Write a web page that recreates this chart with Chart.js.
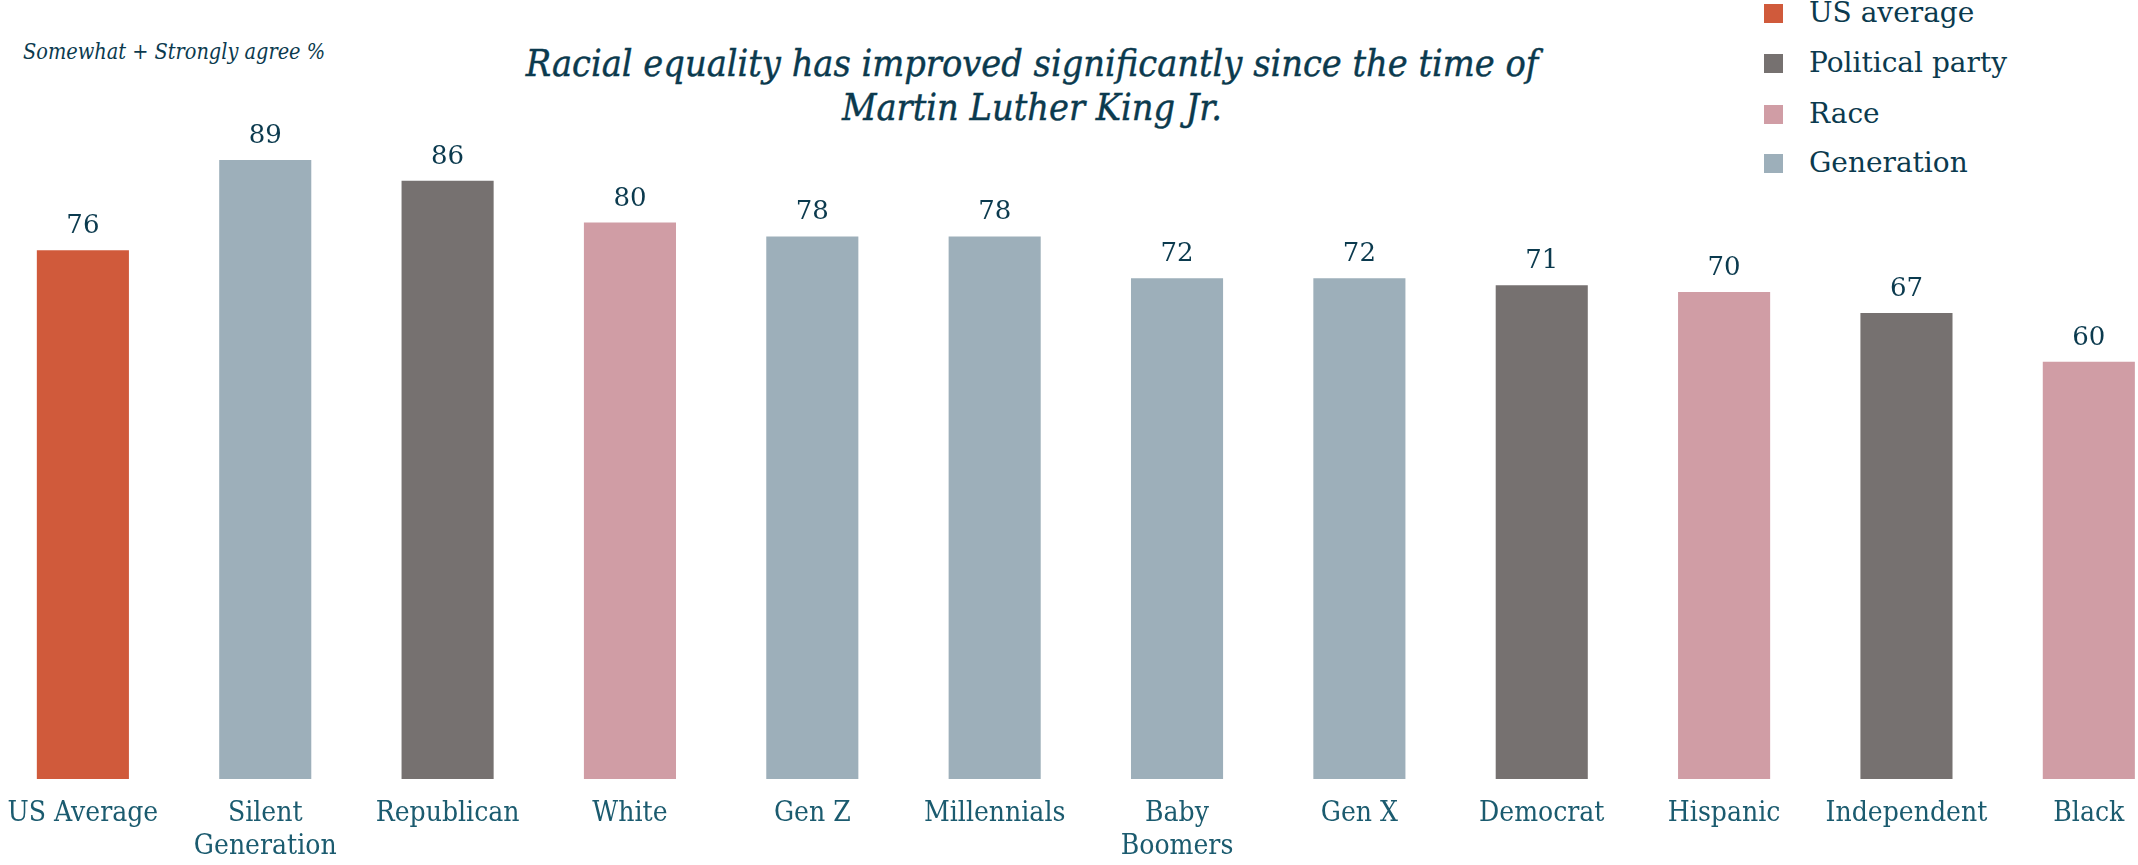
<!DOCTYPE html>
<html>
<head>
<meta charset="utf-8">
<script src="https://cdn.jsdelivr.net/npm/chart.js@4.4.1/dist/chart.umd.min.js"></script>
<style>
    body {
        margin: 0;
        width: 2138px;
        height: 865px;
        overflow: hidden;
        background: #ffffff;
        position: relative;
        font-family: 'DejaVu Serif', serif;
        color: #0b3a4e;
    }
    #chartBox {
        position: absolute;
        left: -11px;
        top: 0;
        width: 2191px;
        height: 882px;
    }
    .title {
        position: absolute;
        left: 432px;
        width: 1200px;
        text-align: center;
        font-family: 'DejaVu Serif Condensed', 'DejaVu Serif', serif;
        font-style: italic;
        font-size: 37.5px;
        line-height: 44px;
        top: 41px;
        white-space: nowrap;
        -webkit-text-stroke: 0.4px #0b3a4e;
    }
    .subtitle {
        position: absolute;
        left: 23px;
        top: 40px;
        font-family: 'DejaVu Serif Condensed', 'DejaVu Serif', serif;
        font-style: italic;
        font-size: 21.5px;
        line-height: 24px;
        white-space: nowrap;
    }
    .legend-item {
        position: absolute;
        left: 1764px;
        height: 30px;
    }
    .legend-item .swatch {
        position: absolute;
        left: 0;
        width: 19px;
        height: 19px;
    }
    .legend-item .label {
        position: absolute;
        left: 45px;
        font-size: 28px;
        line-height: 28px;
        white-space: nowrap;
    }
</style>
</head>
<body>
<div class="subtitle">Somewhat + Strongly agree %</div>
<div class="title">Racial equality has improved significantly since the time of<br>Martin Luther King Jr.</div>
<div id="legend"></div>
<div id="chartBox"><canvas id="barChart"></canvas></div>

<script>
// Categories, in the order shown
const categories = [
    'US Average', ['Silent', 'Generation'], 'Republican', 'White', 'Gen Z', 'Millennials',
    ['Baby', 'Boomers'], 'Gen X', 'Democrat', 'Hispanic', 'Independent', 'Black'
];

// Somewhat + Strongly agree %
const agreeValues = [76, 89, 86, 80, 78, 78, 72, 72, 71, 70, 67, 60];

// Which group each bar belongs to
const barGroups = [
    'US average', 'Generation', 'Political party', 'Race', 'Generation', 'Generation',
    'Generation', 'Generation', 'Political party', 'Race', 'Political party', 'Race'
];

// Legend groups and their colours
const groupNames = ['US average', 'Political party', 'Race', 'Generation'];
const groupColors = ['#d05a3b', '#767170', '#d09da5', '#9dafba'];

const textColor = '#0b3a4e';
const axisTextColor = '#1b5b6f';

// Build the legend (top right)
const legendBaselines = [23, 73, 124, 173];
const legendEl = document.getElementById('legend');
groupNames.forEach(function (name, i) {
    const item = document.createElement('div');
    item.className = 'legend-item';
    item.style.top = (legendBaselines[i] - 24) + 'px';
    item.innerHTML = '<div class="swatch" style="top:5px;background:' + groupColors[i] + '"></div>' +
        '<div class="label" style="top:0">' + name + '</div>';
    legendEl.appendChild(item);
});

// Value labels above bars
const valueLabels = {
    id: 'valueLabels',
    afterDatasetsDraw(chart) {
        const ctx = chart.ctx;
        const meta = chart.getDatasetMeta(0);
        ctx.save();
        ctx.font = '26px "DejaVu Serif"';
        ctx.fillStyle = textColor;
        ctx.textAlign = 'center';
        ctx.textBaseline = 'alphabetic';
        meta.data.forEach(function (bar, i) {
            ctx.fillText(agreeValues[i], bar.x, bar.y - 17);
        });
        ctx.restore();
    }
};

document.addEventListener('DOMContentLoaded', function () {
    const canvas = document.getElementById('barChart').getContext('2d');
    const colors = barGroups.map(g => groupColors[groupNames.indexOf(g)]);

    new Chart(canvas, {
        type: 'bar',
        data: {
            labels: categories,
            datasets: [{
                data: agreeValues,
                backgroundColor: colors,
                borderWidth: 0,
                categoryPercentage: 1,
                barPercentage: 0.505,
            }],
        },
        options: {
            responsive: true,
            maintainAspectRatio: false,
            animation: false,
            layout: { padding: 0 },
            plugins: {
                legend: { display: false },
                tooltip: { enabled: false },
            },
            scales: {
                x: {
                    grid: { display: false, drawTicks: false },
                    border: { display: false },
                    ticks: {
                        color: axisTextColor,
                        padding: 18.5,
                        maxRotation: 0,
                        autoSkip: false,
                        font: { family: '"DejaVu Serif Condensed", "DejaVu Serif", serif', size: 28, lineHeight: 1.18 },
                    },
                },
                y: {
                    display: false,
                    min: 0,
                    max: 112,
                },
            },
        },
        plugins: [valueLabels],
    });
});
</script>
</body>
</html>
